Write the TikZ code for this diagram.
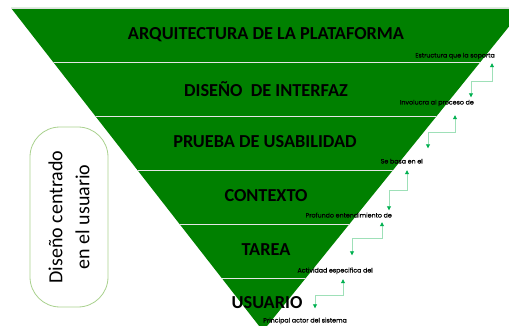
\documentclass[tikz,border=0pt]{standalone}
\usepackage{fontspec}
\setmainfont{Carlito}
\newfontfamily\notefont[FakeBold=0.6]{Poppins}
\usetikzlibrary{arrows.meta}
\definecolor{piramide}{RGB}{0,128,0}
\definecolor{linea}{RGB}{158,224,184}
\definecolor{punta}{RGB}{0,176,80}
\definecolor{borde}{RGB}{169,209,142}
\tikzset{
  titulo/.style={font=\fontsize{18.3}{21}\selectfont\bfseries, text=black},
  nota/.style={font=\notefont\fontsize{6.3}{7}\selectfont, inner sep=0pt, text height=4.5pt, text depth=1.5pt, anchor=east},
  escalon/.style={draw=linea, line width=0.8pt, {Triangle[length=4pt,width=4pt,color=punta]}-{Triangle[length=4pt,width=4pt,color=punta]}}
}
\begin{document}
\begin{tikzpicture}[x=1pt,y=-1pt]
\useasboundingbox (0,0) rectangle (509,326);

% piramide invertida
\begin{scope}
\clip (0,0) rectangle (509,326);
\fill[piramide] (11,8) -- (524,8) -- (263,331) -- cycle;
\draw[gray!25, line width=0.8pt] (11,8) -- (524,8);
\clip (11,8) -- (524,8) -- (263,331) -- cycle;
\foreach \y in {62,116,170,224,278}
  \draw[gray!20, line width=0.8pt] (0,\y) -- (509,\y);
\end{scope}

\node[titulo] (arq) at (266,35) {ARQUITECTURA DE LA PLATAFORMA};
\node[titulo] (dis) at (266,89) {DISEÑO\ \ DE INTERFAZ};
\node[titulo] (pru) at (265,142) {PRUEBA DE USABILIDAD};
\node[titulo] (con) at (266,196) {CONTEXTO};
\node[titulo] (tar) at (266,250) {TAREA};
\node[titulo] (usu) at (267,303) {USUARIO};

\node[nota] (e1) at (495,56) {Estructura que la soporta};
\node[nota] (e2) at (474,103) {Involucra al proceso de};
\node[nota] (e3) at (423,162) {Se basa en el};
\node[nota] (e4) at (392,216) {Profundo entendimiento de};
\node[nota] (e5) at (373,271) {Actividad especifica del};
\node[nota] (e6) at (347,321) {Principal actor del sistema};

\draw[escalon] ([xshift=-3pt,yshift=-4pt]e1.south east) -- ++(0,18) -| ([xshift=-3pt,yshift=2.5pt]e2.north east);
\draw[escalon] ([xshift=-19pt,yshift=-9pt]e2.south east) -- ++(0,17) -| ([xshift=5pt,yshift=10.5pt]e3.north east);
\draw[escalon] ([xshift=-16pt,yshift=-5pt]e3.south east) -- ++(0,20) -| ([xshift=-3pt,yshift=2.5pt]e4.north east);
\draw[escalon] ([xshift=-10pt,yshift=-3pt]e4.south east) -- ++(0,16) -| ([xshift=-21pt,yshift=12.5pt]e5.north east);
\draw[escalon] ([xshift=-30pt,yshift=-5pt]e5.south east) -- ++(0,16) -| ([xshift=-32pt,yshift=9.5pt]e6.north east);

\node[draw=borde, line width=0.8pt, rounded corners=30pt, rotate=90, minimum width=180pt, minimum height=78pt,
  align=center, font=\fontsize{20}{27}\selectfont] (dcu) at (69,217) {Diseño centrado\\en el usuario};
\end{tikzpicture}
\end{document}
